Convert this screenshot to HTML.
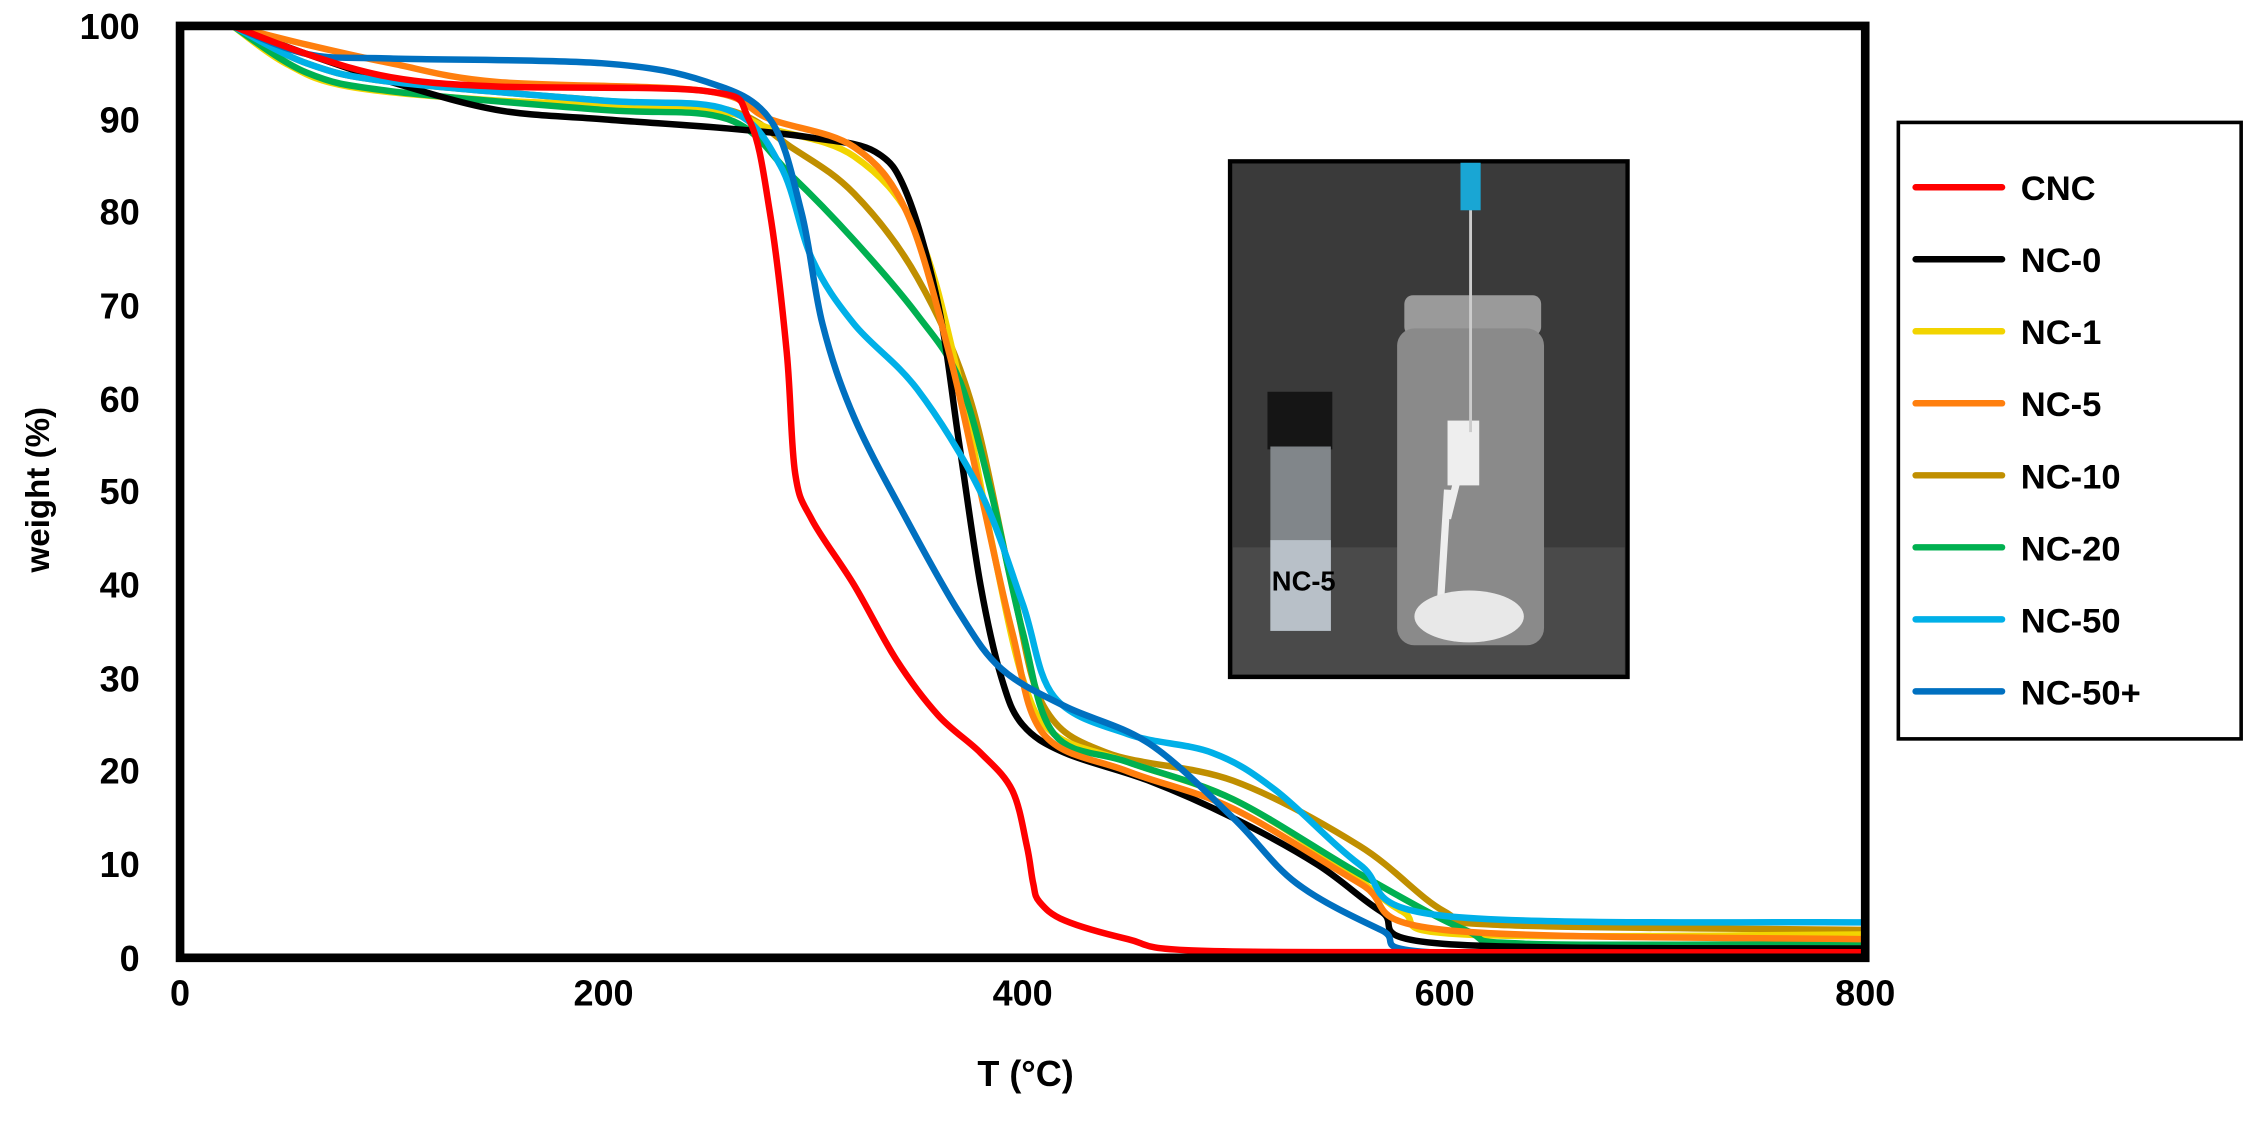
<!DOCTYPE html>
<html><head><meta charset="utf-8"><style>
html,body{margin:0;padding:0;background:#fff;}
svg{display:block;}
text{font-family:"Liberation Sans",Arial,sans-serif;font-weight:bold;fill:#000;}
</style></head><body>
<svg id="s" width="2257" height="1121" viewBox="0 0 1567 778.3" xmlns="http://www.w3.org/2000/svg">
<rect width="1567" height="779" fill="#fff"/>
<g font-size="25" text-anchor="end">
<text x="97" y="27">100</text><text x="97" y="92">90</text><text x="97" y="156">80</text>
<text x="97" y="221">70</text><text x="97" y="286">60</text><text x="97" y="350">50</text>
<text x="97" y="415">40</text><text x="97" y="480">30</text><text x="97" y="544">20</text>
<text x="97" y="609">10</text><text x="97" y="674">0</text>
</g>
<g font-size="25" text-anchor="middle">
<text x="125" y="698">0</text><text x="419" y="698">200</text><text x="710" y="698">400</text>
<text x="1003" y="698">600</text><text x="1295" y="698">800</text>
<text x="712" y="754">T (°C)</text>
</g>
<text font-size="23" text-anchor="middle" transform="translate(34,340) rotate(-90)">weight (%)</text>
<g id="curves" fill="none" stroke-width="4.5" stroke-linejoin="round" stroke-linecap="round"></g>
<line x1="125" y1="665" x2="1295" y2="665" stroke="#888" stroke-width="4"/>
<rect x="125" y="18" width="1170" height="647" fill="none" stroke="#000" stroke-width="6"/>
<g>
<rect x="854" y="112" width="276" height="358" fill="#3a3a3a" stroke="#000" stroke-width="3"/>
<rect x="856" y="380" width="272" height="88" fill="#4a4a4a"/>
<rect x="880" y="272" width="45" height="40" fill="#151515"/>
<rect x="882" y="310" width="42" height="128" fill="#8a8f94" opacity="0.9"/>
<rect x="882" y="375" width="42" height="63" fill="#b8c0c8"/>
<text x="883" y="410" font-size="19">NC-5</text>
<rect x="975" y="205" width="95" height="28" rx="6" fill="#9a9a9a"/>
<rect x="970" y="228" width="102" height="220" rx="12" fill="#8a8a8a"/>
<path d="M1005 340 L1000 420 M1020 300 L1005 360" stroke="#eee" stroke-width="5"/>
<rect x="1005" y="292" width="22" height="45" fill="#eee"/>
<ellipse cx="1020" cy="428" rx="38" ry="18" fill="#e8e8e8"/>
<line x1="1021" y1="145" x2="1021" y2="300" stroke="#ccc" stroke-width="2"/>
<rect x="1014" y="113" width="14" height="33" fill="#19a6d4"/>
</g>
<rect x="1318" y="85" width="238" height="428" fill="#fff" stroke="#000" stroke-width="2.5"/>
<g stroke-width="4.5" stroke-linecap="round">
<line x1="1330" y1="130" x2="1390" y2="130" stroke="#ff0000"/>
<line x1="1330" y1="180" x2="1390" y2="180" stroke="#000"/>
<line x1="1330" y1="230" x2="1390" y2="230" stroke="#f2d400"/>
<line x1="1330" y1="280" x2="1390" y2="280" stroke="#ff7f0e"/>
<line x1="1330" y1="330" x2="1390" y2="330" stroke="#c08f00"/>
<line x1="1330" y1="380" x2="1390" y2="380" stroke="#00b050"/>
<line x1="1330" y1="430" x2="1390" y2="430" stroke="#00b0e8"/>
<line x1="1330" y1="480" x2="1390" y2="480" stroke="#0070c0"/>
</g>
<g font-size="24">
<text x="1403" y="139">CNC</text><text x="1403" y="189">NC-0</text><text x="1403" y="239">NC-1</text>
<text x="1403" y="289">NC-5</text><text x="1403" y="339">NC-10</text><text x="1403" y="389">NC-20</text>
<text x="1403" y="439">NC-50</text><text x="1403" y="489">NC-50+</text>
</g>
</svg>
<script>
var X=function(t){return 125+t*1.4625},Y=function(w){return 665-w*6.47};
var S=[
["#c08f00",[[25,100],[60,96],[100,94],[200,92],[260,91],[290,87],[320,82],[350,73],[375,60],[395,40],[410,27],[440,22],[500,19],[560,12],[600,5],[630,3.5],[800,3]]],
["#f2d400",[[25,100],[50,96],[80,93.5],[150,92],[250,91],[280,89],[320,86],[350,78],[370,62],[385,45],[400,30],[415,24],[450,21],[500,17],[550,10],[580,5],[610,2.5],[800,2.5]]],
["#00b050",[[25,100],[60,95],[100,93],[200,91],[260,90],[290,84],[320,77],[350,69],[370,62],[385,50],[400,35],[415,24],[450,21],[500,17],[560,9],[610,3],[640,1.5],[800,1.5]]],
["#000000",[[25,100],[60,97],[100,94],[150,91],[200,90],[260,89],[300,88],[330,86.5],[345,82],[360,70],[370,55],[380,40],[390,30],[400,25],[420,22],[460,19],[500,15],[540,10],[570,5],[600,1.5],[800,1]]],
["#ff7f0e",[[25,100],[60,98],[100,96],[150,94],[250,93],[280,90],[320,87],[345,80],[365,65],[380,50],[395,35],[410,24],[450,20],[500,16],[560,8],[600,3],[800,2]]],
["#00b0e8",[[25,100],[60,96],[100,94],[200,92],[260,91],[285,85],[300,75],[320,68],[350,61],[380,50],[400,38],[415,28],[450,24],[490,22],[520,18],[560,10],[600,4.5],[800,3.8]]],
["#0070c0",[[25,100],[60,97],[100,96.5],[200,96],[250,94],[280,90],[295,80],[305,68],[320,58],[345,47],[370,37],[390,31],[420,27],[460,23],[500,15],[530,8],[570,3],[600,0.5],[800,0.3]]],
["#ff0000",[[25,100],[60,97],[100,94.5],[150,93.5],[250,93],[270,90],[280,80],[288,65],[292,52],[300,47],[320,40],[340,32],[360,26],[380,22],[395,18],[402,12],[405,8],[408,6],[420,4],[450,2],[480,0.8],[600,0.6],[800,0.6]]]
];
var g=document.getElementById('curves'),ns="http://www.w3.org/2000/svg";
S.forEach(function(s){var p=s[1].map(function(a){return [X(a[0]),Y(a[1])]});
var d="M"+p[0][0]+" "+p[0][1];
for(var i=0;i<p.length-1;i++){var p0=p[i-1]||p[i],p1=p[i],p2=p[i+1],p3=p[i+2]||p2;
var c1=[p1[0]+(p2[0]-p0[0])/6,p1[1]+(p2[1]-p0[1])/6],c2=[p2[0]-(p3[0]-p1[0])/6,p2[1]-(p3[1]-p1[1])/6];
d+=" C"+c1+" "+c2+" "+p2;}
var e=document.createElementNS(ns,"path");e.setAttribute("d",d);e.setAttribute("stroke",s[0]);g.appendChild(e);});
</script>
</body></html>
